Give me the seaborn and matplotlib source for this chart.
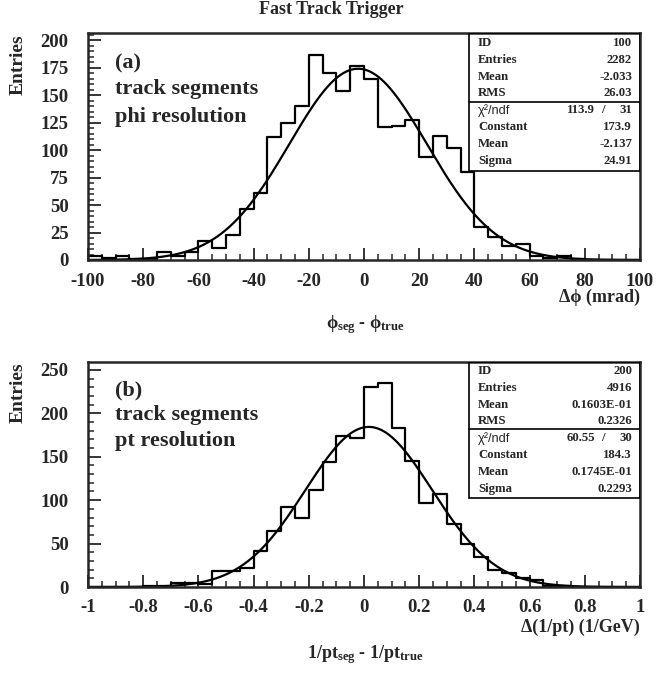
import numpy as np
import pandas as pd
import matplotlib
matplotlib.use("Agg")
import matplotlib.pyplot as plt
from matplotlib.ticker import MultipleLocator
import seaborn as sns

# phi resolution histogram (5 mrad bins, -100..100)
phi_edges = np.arange(-100, 101, 5)
phi_counts = [4, 2, 4, 1, 1, 7, 4, 7, 17, 11,
              23, 46, 61, 112, 125, 140, 186, 170, 154, 176,
              165, 121, 122, 127, 94, 113, 102, 80, 30, 21,
              13, 15, 4, 2, 4, 1, 0, 0, 0, 0]
phi_fit = {"Constant": 173.9, "Mean": -2.137, "Sigma": 24.91}
phi_stats = [("ID", "100"), ("Entries", "2282"), ("Mean", "-2.033"), ("RMS", "26.03")]
phi_chi2 = ("113.9", "31")

# pt resolution histogram (0.05 bins, -1..1)
pt_edges = np.round(np.arange(-1.0, 1.001, 0.05), 2)
pt_counts = [0, 0, 0, 0, 1, 1, 5, 5, 3, 18,
             18, 22, 42, 65, 92, 79, 112, 144, 174, 172,
             230, 235, 183, 145, 97, 107, 72, 50, 34, 20,
             16, 10, 8, 1, 1, 0, 0, 0, 0, 0]
pt_fit = {"Constant": 184.3, "Mean": 0.1745e-01, "Sigma": 0.2293}
pt_stats = [("ID", "200"), ("Entries", "4916"), ("Mean", "0.1603E-01"), ("RMS", "0.2326")]
pt_chi2 = ("60.55", "30")
pt_ticklabels = ["-1", "-0.8", "-0.6", "-0.4", "-0.2", "0", "0.2", "0.4", "0.6", "0.8", "1"]

W, H = 659, 677

sns.set_style("ticks")
plt.rcParams['font.family'] = ['Liberation Serif', 'DejaVu Serif']
plt.rcParams['font.weight'] = 'bold'
plt.rcParams['axes.unicode_minus'] = False
plt.rcParams['mathtext.fontset'] = 'custom'
plt.rcParams['mathtext.rm'] = 'Liberation Serif:bold'
plt.rcParams['mathtext.it'] = 'Liberation Serif:bold'
plt.rcParams['mathtext.bf'] = 'Liberation Serif:bold'

fig = plt.figure(figsize=(W / 100, H / 100), dpi=100)


def px(x, y):
    return x / W, 1 - y / H


def panel(rect, edges, counts, fit, ylim, xmaj, xmin, ymaj, ymin, xlim):
    ax = fig.add_axes(rect)
    centers = (edges[:-1] + edges[1:]) / 2
    df = pd.DataFrame({"x": centers, "w": counts})
    sns.histplot(data=df, x="x", weights="w", bins=edges.tolist(), element="step",
                 fill=False, color="black", linewidth=1.6, ax=ax)
    # gaussian fit curve from the fitted parameters
    xs = np.linspace(xlim[0], xlim[1], 400)
    ys = fit["Constant"] * np.exp(-0.5 * ((xs - fit["Mean"]) / fit["Sigma"]) ** 2)
    sns.lineplot(x=xs, y=ys, color="black", linewidth=1.6, ax=ax)
    ax.set_xlim(*xlim)
    ax.set_ylim(*ylim)
    ax.set_xlabel("")
    ax.set_ylabel("")
    ax.xaxis.set_major_locator(MultipleLocator(xmaj))
    ax.xaxis.set_minor_locator(MultipleLocator(xmin))
    ax.yaxis.set_major_locator(MultipleLocator(ymaj))
    ax.yaxis.set_minor_locator(MultipleLocator(ymin))
    ax.tick_params(which="major", direction="in", length=9, width=1.3, labelsize=13.5)
    ax.tick_params(which="minor", direction="in", length=4.5, width=1.1)
    ax.tick_params(axis="x", which="major", pad=9)
    ax.tick_params(axis="y", which="major", pad=14)
    for s in ax.spines.values():
        s.set_visible(True)
        s.set_linewidth(1.8)
    for lab in ax.get_xticklabels() + ax.get_yticklabels():
        lab.set_fontweight("bold")
    return ax


def stats_box(ax, ybot, ysep, x_left, stats, chi2, fit, top_px, fmt_mean):
    ax.add_patch(plt.Rectangle((x_left, ybot), 1 - x_left, 1 - ybot, transform=ax.transAxes,
                               fill=False, edgecolor="black", linewidth=1.2, zorder=5))
    ax.plot([x_left, 1], [ysep, ysep], transform=ax.transAxes, color="black", linewidth=1.2, zorder=5)
    rows = list(stats) + [None] + [("Constant", f"{fit['Constant']:.1f}"),
                                   ("Mean", fmt_mean), ("Sigma", f"{fit['Sigma']:.4g}")]
    fs = 9.2
    for i, r in enumerate(rows):
        y = top_px + 16.8 * i
        if r is None:
            fig.text(*px(478, y), "χ²/ndf", family="Liberation Sans", weight="normal",
                     fontsize=fs, va="center", ha="left")
            fig.text(*px(595, y), chi2[0], fontsize=fs, va="center", ha="right")
            fig.text(*px(603, y), "/", fontsize=fs, va="center", ha="center")
            fig.text(*px(632, y), chi2[1], fontsize=fs, va="center", ha="right")
        else:
            fig.text(*px(478, y), r[0], fontsize=fs, va="center", ha="left")
            fig.text(*px(632, y), r[1], fontsize=fs, va="center", ha="right")


ax1 = panel([88 / W, 1 - 260 / H, 552 / W, 227 / H], phi_edges, phi_counts, phi_fit,
            (0, 206.4), 20, 5, 25, 5, (-100, 100))
stats_box(ax1, (260 - 170.7) / 227, (260 - 101.7) / 227, (469 - 88) / 552,
          phi_stats, phi_chi2, phi_fit, 43, "-2.137")

ax2 = panel([88 / W, 1 - 587 / H, 552 / W, 225 / H], pt_edges, pt_counts, pt_fit,
            (0, 259), 0.2, 0.05, 50, 10, (-1, 1))
ax2.set_xticks(np.round(np.arange(-1, 1.01, 0.2), 1))
ax2.set_xticklabels(pt_ticklabels, fontweight="bold")
stats_box(ax2, (587 - 498) / 225, (587 - 429) / 225, (469 - 88) / 552,
          pt_stats, pt_chi2, pt_fit, 371, "0.1745E-01")

fig.text(*px(331, 10), "Fast Track Trigger", fontsize=13, ha="center", va="center")

# panel annotations
for (x, y, s) in [(115, 63, "(a)"), (115, 89, "track segments"), (115, 117, "phi resolution"),
                  (115, 390, "(b)"), (115, 415, "track segments"), (115, 441, "pt resolution")]:
    fig.text(*px(x, y), s, fontsize=16, ha="left", va="center")

fig.text(*px(18, 34), "Entries", rotation=90, fontsize=14, ha="center", va="top")
fig.text(*px(18, 362), "Entries", rotation=90, fontsize=14, ha="center", va="top")

fig.text(*px(640, 297), "Δϕ (mrad)", fontsize=13, ha="right", va="center")
fig.text(*px(365, 325), r"$ϕ_{seg}$ - $ϕ_{true}$", fontsize=13, ha="center", va="center")
fig.text(*px(640, 627), "Δ(1/pt) (1/GeV)", fontsize=13, ha="right", va="center")
fig.text(*px(365, 655), r"1/pt$_{seg}$ - 1/pt$_{true}$", fontsize=13, ha="center", va="center")

fig.savefig("out.png", dpi=100)
